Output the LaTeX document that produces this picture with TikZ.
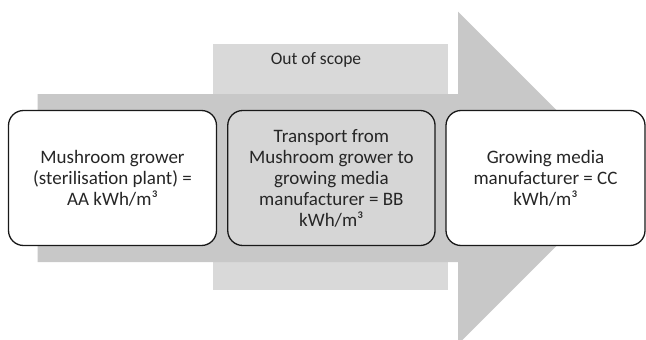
\documentclass[tikz,border=0pt]{standalone}
\usepackage{fontspec}
\setmainfont{Carlito}
\definecolor{shaftgray}{HTML}{C8C8C8}
\definecolor{scopegray}{HTML}{D9D9D9}
\definecolor{midgray}{HTML}{D6D6D6}
\definecolor{inkgray}{HTML}{262626}
\tikzset{
  stagebox/.style={draw=black!90, line width=1.3pt, rounded corners=15pt,
    minimum width=208pt, minimum height=135pt, align=center,
    text=inkgray, font=\fontsize{19}{21}\selectfont, inner sep=0pt},
  scopelabel/.style={text=inkgray, font=\fontsize{17.5}{21}\selectfont, inner sep=0pt}
}
\begin{document}
\begin{tikzpicture}[x=1pt,y=-1pt]
  \useasboundingbox (0,0) rectangle (646,340);
  \clip (0,0) rectangle (646,340);
  \fill[white] (0,0) rectangle (646,340);

  % out-of-scope band behind the flow arrow
  \fill[scopegray] (212.7,44.3) rectangle (448,290);
  \node[scopelabel] (scope) at (316,60) {Out of scope};

  % flow arrow: shaft and 45-degree head
  \fill[shaftgray] (37.7,94) -- (458,94) -- (458,11.7) -- (624.3,178)
     -- (458,344.3) -- (458,262) -- (37.7,262) -- cycle;

  % process stages
  \node[stagebox, fill=white] (grower) at (112.5,178)
    {Mushroom grower\\(sterilisation plant) =\\AA kWh/m³};
  \node[stagebox, fill=midgray, minimum width=207.3pt] (transport) at (331.4,178)
    {Transport from\\Mushroom grower to\\growing media\\manufacturer = BB\\kWh/m³};
  \node[stagebox, fill=white, minimum width=199pt] (maker) at (545.5,178)
    {Growing media\\manufacturer = CC\\kWh/m³};
\end{tikzpicture}
\end{document}
